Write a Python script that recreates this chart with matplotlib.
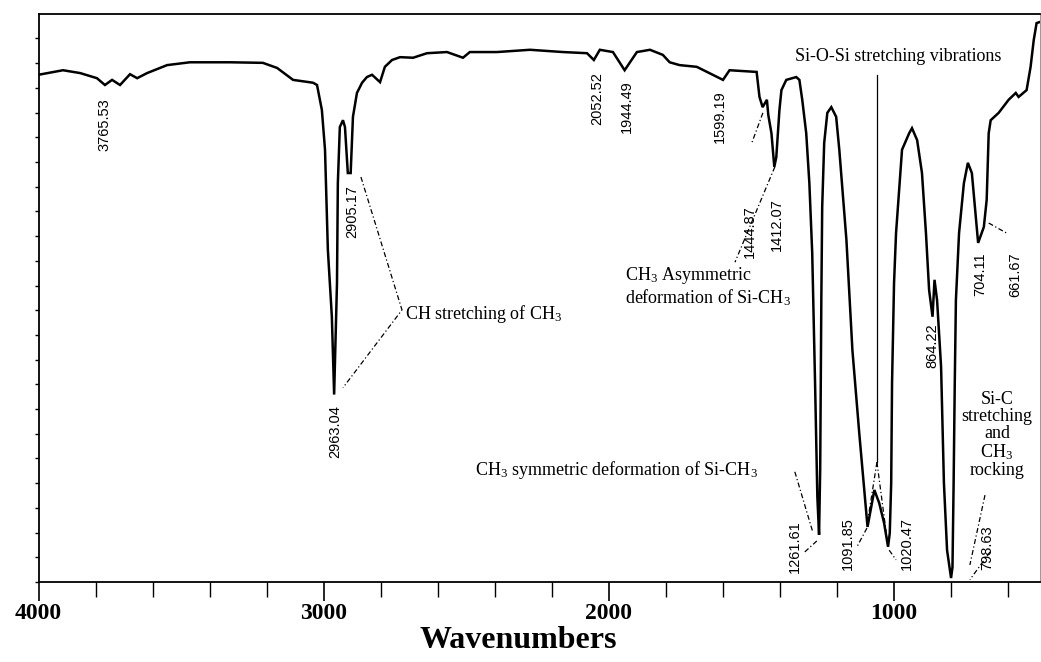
import matplotlib
matplotlib.use('Agg')
import matplotlib.pyplot as plt
import numpy as np
from matplotlib.ticker import MultipleLocator

plt.rcParams['mathtext.fontset'] = 'custom'
plt.rcParams['mathtext.rm'] = 'Liberation Serif'
plt.rcParams['mathtext.it'] = 'Liberation Serif:italic'
plt.rcParams['mathtext.bf'] = 'Liberation Serif:bold'

# spectrum (wavenumber cm-1, transmittance %)
wavenumber = [4000, 3914, 3854, 3795, 3767, 3742, 3714, 3679, 3654, 3619,
              3549, 3469, 3328, 3213, 3163, 3107, 3037, 3023, 3006, 2995,
              2985, 2971, 2963, 2957, 2953, 2950, 2943, 2932, 2925, 2915,
              2905, 2897, 2883, 2865, 2848, 2830, 2802, 2785, 2760, 2732,
              2686, 2637, 2567, 2511, 2487, 2392, 2276, 2160, 2076, 2052,
              2031, 1985, 1944, 1901, 1855, 1810, 1786, 1751, 1691, 1635,
              1599, 1576, 1481, 1471, 1460, 1445, 1440, 1429, 1419, 1412,
              1401, 1394, 1377, 1342, 1331, 1321, 1307, 1296, 1286, 1276,
              1268, 1262, 1258, 1254, 1251, 1244, 1233, 1219, 1202, 1191,
              1166, 1145, 1121, 1092, 1079, 1068, 1051, 1034, 1020, 1014,
              1009, 1006, 999, 992, 971, 946, 936, 918, 901, 887,
              876, 864, 857, 848, 834, 824, 813, 799, 794, 790,
              786, 782, 771, 754, 740, 726, 712, 704, 684, 674,
              667, 660, 632, 597, 572, 562, 534, 520, 509, 499, 487]
transmittance = [89.3, 90.1, 89.6, 88.7, 87.5, 88.4, 87.5, 89.4, 88.7, 89.6,
                 91.0, 91.5, 91.5, 91.4, 90.5, 88.4, 87.9, 87.5, 83.1, 76.1,
                 58.5, 46.7, 33.0, 44.4, 52.6, 70.2, 80.1, 81.3, 80.1, 72.0,
                 72.0, 81.9, 86.1, 87.9, 88.9, 89.3, 88.0, 90.7, 91.9, 92.4,
                 92.3, 93.1, 93.3, 92.3, 93.3, 93.3, 93.7, 93.3, 93.1, 91.9,
                 93.7, 93.3, 90.1, 93.3, 93.7, 92.8, 91.5, 91.0, 90.7, 89.3,
                 88.4, 90.1, 89.8, 85.4, 83.6, 84.9, 82.2, 79.0, 73.1, 74.8,
                 83.1, 86.6, 88.4, 88.9, 88.4, 84.9, 79.0, 70.2, 57.9, 35.0,
                 15.0, 8.3, 20.0, 50.0, 66.0, 77.3, 82.6, 83.6, 81.9, 76.1,
                 60.2, 40.8, 26.2, 9.7, 13.2, 16.2, 13.9, 10.4, 6.2, 8.6,
                 17.4, 35.0, 52.6, 61.4, 76.1, 79.0, 79.9, 77.8, 72.0, 61.4,
                 51.4, 46.7, 53.2, 49.6, 37.9, 17.4, 5.6, 0.7, 2.6, 17.4,
                 35.0, 49.6, 61.4, 70.2, 73.8, 72.0, 64.3, 59.7, 62.5, 67.3,
                 79.0, 81.3, 82.6, 84.9, 86.1, 85.4, 86.6, 90.7, 95.4, 98.4, 98.6]

# peak labels and where they sit (wavenumber, top of text in %T)
peak_labels = ['3765.53', '2905.17', '2963.04', '2052.52', '1944.49', '1599.19',
               '1444.87', '1412.07', '1261.61', '1091.85', '1020.47', '864.22',
               '798.63', '704.11', '661.67']
label_x = [3767, 2900, 2960, 2041, 1936, 1610, 1505, 1410, 1346, 1160, 953, 865, 672, 697, 574]
label_y = [85.2, 69.9, 31.2, 89.8, 88.4, 86.6, 66.4, 67.6, 10.9, 11.4, 11.4, 45.6, 10.0, 58.1, 58.1]

# dashed leader lines (wavenumber list, %T list)
leaders = [
    ([2869, 2725, 2932], [71.3, 47.9, 34.2]),
    ([1459, 1498], [82.6, 77.3]),
    ([1417, 1557], [73.1, 56.3]),
    ([1347, 1284], [19.4, 8.8]),
    ([1312, 1266], [5.3, 7.4]),
    ([1094, 1129], [9.5, 6.2]),
    ([1016, 992], [5.6, 3.9]),
    ([1059, 1091], [21.1, 10.9]),
    ([1059, 1023], [21.1, 7.4]),
    ([680, 733], [15.3, 3.0]),
    ([662, 733], [5.3, 0.4]),
    ([667, 603], [63.2, 61.4]),
]

fig = plt.figure(figsize=(10.41, 6.62), dpi=100)
ax = fig.add_axes([38.5 / 1041, 80 / 662, 1001.5 / 1041, 568 / 662])

ax.plot(wavenumber, transmittance, color='black', lw=1.8, solid_joinstyle='miter')

ax.set_xlim(4000, 487)
ax.set_ylim(0, 100)

serif = ['Liberation Serif', 'DejaVu Serif']
narrow = ['Liberation Sans Narrow', 'Liberation Sans', 'DejaVu Sans']

for txt, x, y in zip(peak_labels, label_x, label_y):
    ax.text(x, y, txt, rotation=90, ha='center', va='top', fontsize=10.5, family=narrow)

for xs, ys in leaders:
    ax.plot(xs, ys, color='black', lw=0.9, ls=(0, (4, 2, 1, 2)))

# Si-O-Si marker line
ax.plot([1059, 1059], [89.3, 21.1], color='black', lw=0.9)

ax.text(2714, 47.2, 'CH stretching of CH$_{\\mathrm{3}}$', ha='left', va='center', fontsize=13, family=serif)
ax.text(1943, 55.8, 'CH$_{\\mathrm{3}}$ Asymmetric\ndeformation of Si-CH$_{\\mathrm{3}}$',
        ha='left', va='top', fontsize=13, family=serif, linespacing=1.1)
ax.text(2469, 19.7, 'CH$_{\\mathrm{3}}$ symmetric deformation of Si-CH$_{\\mathrm{3}}$',
        ha='left', va='center', fontsize=13, family=serif)
ax.text(1347, 92.6, 'Si-O-Si stretching vibrations', ha='left', va='center', fontsize=13, family=serif)
ax.text(638, 25.9, 'Si-C\nstretching\nand\nCH$_{\\mathrm{3}}$\nrocking', ha='center', va='center',
        fontsize=13, family=serif, linespacing=1.0)

ax.xaxis.set_major_locator(MultipleLocator(1000))
ax.xaxis.set_minor_locator(MultipleLocator(200))
ax.tick_params(axis='x', which='major', direction='out', length=14, width=1.2, pad=1)
ax.tick_params(axis='x', which='minor', direction='out', length=11, width=1.0)
ax.set_xticks([4000, 3000, 2000, 1000])
ax.set_xticklabels(['4000', '3000', '2000', '1000'], family=serif, fontweight='bold', fontsize=17)

ax.set_yticks(np.arange(0, 100, 4.35))
ax.set_yticklabels([])
ax.tick_params(axis='y', direction='out', length=3, width=1.0)

fig.text(518 / 1041, 1 - 641 / 662, 'Wavenumbers', ha='center', va='center',
         family=serif, fontweight='bold', fontsize=23)

for side in ['left', 'bottom', 'top']:
    ax.spines[side].set_linewidth(1.3)
ax.spines['right'].set_linewidth(0.6)
ax.spines['right'].set_color('#888888')

fig.savefig('out.png', dpi=100)
